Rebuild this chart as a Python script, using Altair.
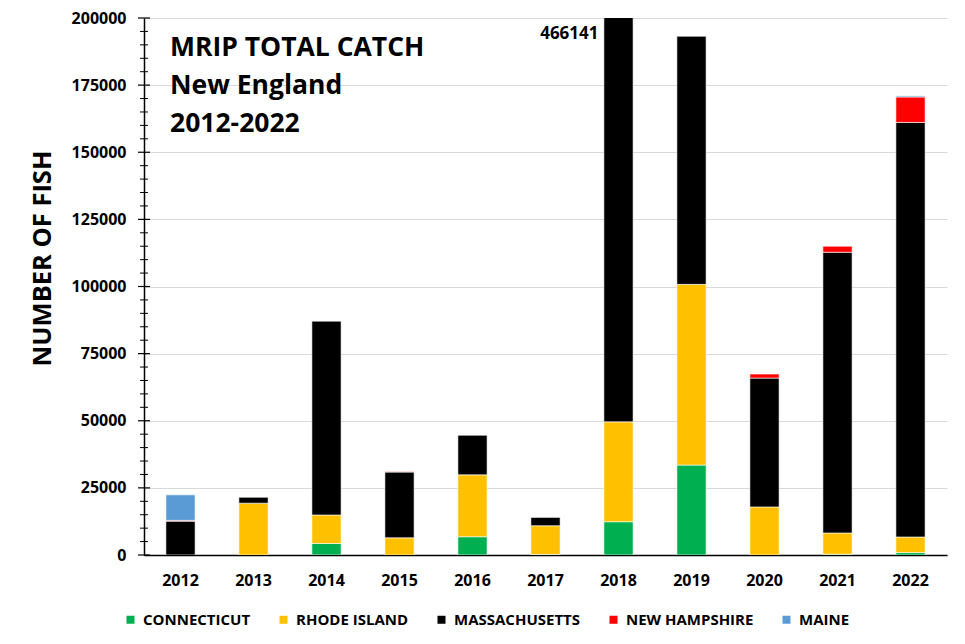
import altair as alt
import pandas as pd

years = ["2012", "2013", "2014", "2015", "2016", "2017", "2018", "2019", "2020", "2021", "2022"]
states = ["CONNECTICUT", "RHODE ISLAND", "MASSACHUSETTS", "NEW HAMPSHIRE", "MAINE"]
colors = ["#00B050", "#FFC000", "#000000", "#FF0000", "#5B9BD5"]

connecticut = [0, 0, 4300, 0, 6800, 200, 12400, 33500, 0, 300, 900]
rhode_island = [0, 19300, 10600, 6400, 23050, 10700, 37200, 67300, 17900, 7900, 5800]
massachusetts = [12600, 2200, 72200, 24500, 14750, 3100, 416541, 92400, 48000, 104550, 154400]
new_hampshire = [300, 0, 0, 200, 0, 0, 0, 0, 1500, 2250, 9500]
maine = [9500, 0, 0, 0, 0, 0, 0, 0, 0, 0, 400]

title_lines = ["MRIP TOTAL CATCH", "New England", "2012-2022"]
annot_year = ["2018"]
annot_label = ["466141"]
annot_y = [200000]

major_ticks = [0, 25000, 50000, 75000, 100000, 125000, 150000, 175000, 200000]
minor_ticks = [v for v in range(0, 200001, 5000) if v % 25000 != 0]

FONT = "Open Sans"

rows = []
for i, (s, vals) in enumerate(zip(states, [connecticut, rhode_island, massachusetts, new_hampshire, maine])):
    for yr, v in zip(years, vals):
        if v > 0:
            rows.append({"year": yr, "state": s, "ord": i, "catch": v})
df = pd.DataFrame(rows)

yscale = alt.Scale(domain=[0, 200000], nice=False, zero=True)
xscale = alt.Scale(domain=years, paddingInner=0.6, paddingOuter=0.3)

yaxis = alt.Axis(
    values=major_ticks, format="d", ticks=False,
    domainColor="black", domainWidth=1.5,
    grid=True, gridColor="#D9D9D9", gridWidth=1,
    labelFont=FONT, labelFontWeight="bold", labelFontSize=16,
    labelColor="black", labelPadding=18,
    title="NUMBER OF FISH", titleFont=FONT, titleFontWeight="bold",
    titleFontSize=25.5, titleColor="black", titleAngle=-90,
    titleAlign="center", titleBaseline="middle",
    titleX=-102, titleY=240)

xaxis = alt.Axis(
    title=None, labelAngle=0, ticks=False, grid=False,
    domainColor="black", domainWidth=1.5,
    labelFont=FONT, labelFontWeight="bold", labelFontSize=16,
    labelColor="black", labelPadding=17)

bars = alt.Chart(df).mark_bar(clip=True, stroke="white", strokeWidth=0.6).encode(
    x=alt.X("year:N", scale=xscale, axis=xaxis),
    y=alt.Y("catch:Q", stack="zero", scale=yscale, axis=yaxis),
    color=alt.Color("state:N", scale=alt.Scale(domain=states, range=colors), legend=alt.Legend(
        title=None, orient="none", legendX=-21, legendY=594,
        direction="horizontal", columns=5, columnPadding=25,
        symbolType="square", symbolSize=64, symbolStrokeWidth=0,
        labelFont=FONT, labelFontWeight="bold", labelFontSize=15,
        labelColor="black", labelOffset=5)),
    order=alt.Order("ord:Q", sort="ascending"),
)

major_df = pd.DataFrame({"catch": major_ticks})
minor_df = pd.DataFrame({"catch": minor_ticks})

major_rules = alt.Chart(major_df).mark_rule(color="black", strokeWidth=1.2).encode(
    x=alt.value(-6), x2=alt.value(6), y=alt.Y("catch:Q", scale=yscale, axis=yaxis))
minor_rules = alt.Chart(minor_df).mark_rule(color="black", strokeWidth=1).encode(
    x=alt.value(-4), x2=alt.value(4), y=alt.Y("catch:Q", scale=yscale, axis=yaxis))

annot_df = pd.DataFrame({"year": annot_year, "label": annot_label, "catch": annot_y})
annot = alt.Chart(annot_df).mark_text(
    align="right", baseline="middle", dx=-20, dy=16,
    font=FONT, fontWeight="bold", fontSize=17, color="black").encode(
    x=alt.X("year:N", scale=xscale, axis=xaxis),
    y=alt.Y("catch:Q", scale=yscale, axis=yaxis), text="label:N")

title_df = pd.DataFrame({"t": ["\n".join(title_lines)]})
title = alt.Chart(title_df).mark_text(
    align="left", baseline="alphabetic", lineBreak="\n", lineHeight=38,
    font=FONT, fontWeight="bold", fontSize=26.5, color="black").encode(
    x=alt.value(26), y=alt.value(38), text="t:N")

chart = alt.layer(bars, major_rules, minor_rules, annot, title).properties(
    width=803, height=537,
    autosize=alt.AutoSizeParams(type="none"),
    padding={"left": 136, "top": 10, "right": 5, "bottom": 75},
    background="white",
).configure_view(stroke=None)

chart.save("out.html", embed_options={"renderer": "svg", "actions": False})
